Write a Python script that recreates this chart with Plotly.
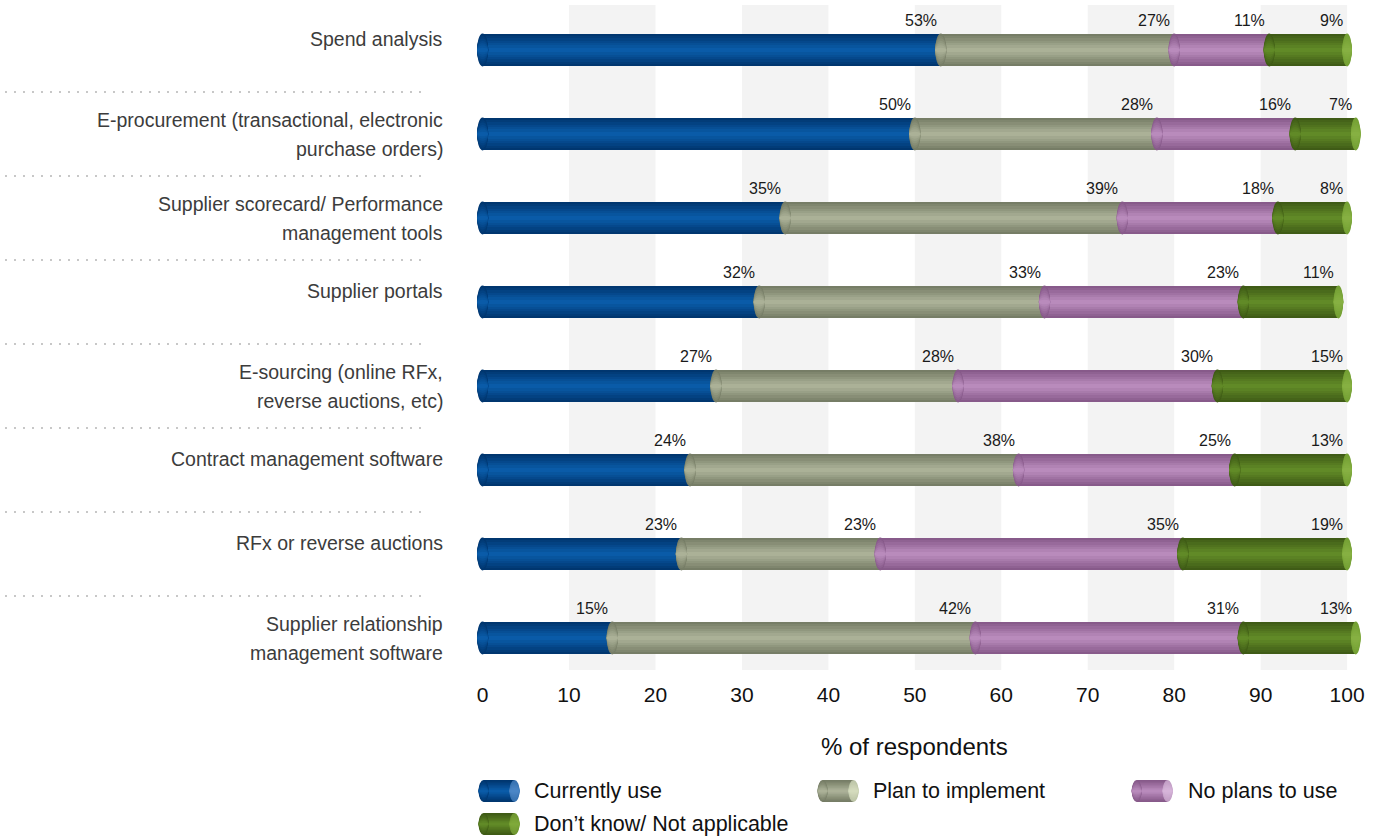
import plotly.graph_objects as go

# ---- data -------------------------------------------------------------
categories = [
    "Spend analysis",
    "E-procurement (transactional, electronic<br>purchase orders)",
    "Supplier scorecard/ Performance<br>management tools",
    "Supplier portals",
    "E-sourcing (online RFx,<br>reverse auctions, etc)",
    "Contract management software",
    "RFx or reverse auctions",
    "Supplier relationship<br>management software",
]
series_names = ["Currently use", "Plan to implement", "No plans to use",
                "Don\u2019t know/ Not applicable"]
currently_use = [53, 50, 35, 32, 27, 24, 23, 15]
plan_to_implement = [27, 28, 39, 33, 28, 38, 23, 42]
no_plans_to_use = [11, 16, 18, 23, 30, 25, 35, 31]
dont_know = [9, 7, 8, 11, 15, 13, 19, 13]
x_ticks = [0, 10, 20, 30, 40, 50, 60, 70, 80, 90, 100]
axis_title = "% of respondents"

series_values = [currently_use, plan_to_implement, no_plans_to_use, dont_know]

# ---- style ------------------------------------------------------------
W, H = 1381, 837
# (edge colour, centre colour, end-cap colour) for each series
palette = [
    ("#00366F", "#0A5BA8", "#4B86C6"),
    ("#767D66", "#ABB197", "#D4DBBD"),
    ("#875A8A", "#B98BBC", "#D6B4D9"),
    ("#3F5B16", "#618A27", "#7FA93A"),
]
BAR_W = 0.39          # bar thickness in category units
CAP_HW = 0.65         # half width of elliptical ends in x units
N_LAYERS = 7
FONT = "Liberation Sans, Arial, Helvetica, sans-serif"


def hex_to_rgb(h):
    h = h.lstrip("#")
    return tuple(int(h[i:i + 2], 16) for i in (0, 2, 4))


def mix(c1, c2, t):
    a, b = hex_to_rgb(c1), hex_to_rgb(c2)
    return "#%02x%02x%02x" % tuple(round(a[i] + (b[i] - a[i]) * t) for i in range(3))


def px_x(p):
    return p / W


def px_y(p):
    return 1 - p / H


rows = list(range(len(categories)))
fig = go.Figure()
shapes = []
annotations = []

# alternating background bands
for t in x_ticks[1::2]:
    shapes.append(dict(type="rect", xref="x", yref="paper", x0=t, x1=t + 10,
                       y0=px_y(670), y1=px_y(5), fillcolor="#F3F3F3",
                       line_width=0, layer="below"))

# stacked cylinder bars, shaded with layered bars of decreasing thickness
starts = [0] * len(rows)
seg_starts = []
for s, vals in enumerate(series_values):
    edge, centre, _ = palette[s]
    seg_starts.append(list(starts))
    for k in range(N_LAYERS):
        frac = 1 - k / N_LAYERS
        fig.add_trace(go.Bar(
            y=rows, x=vals, base=list(starts), orientation="h",
            width=BAR_W * frac,
            marker=dict(color=mix(edge, centre, k / (N_LAYERS - 1)), line_width=0),
            showlegend=False, hoverinfo="skip",
            name=series_names[s],
        ))
    ends = [a + v for a, v in zip(starts, vals)]
    # value labels at the right end of each segment
    for i in rows:
        annotations.append(dict(
            x=ends[i], y=i, xref="x", yref="y", text=f"{vals[i]}%",
            showarrow=False, xanchor="right", yanchor="middle",
            xshift=-2, yshift=30,
            font=dict(family=FONT, size=16, color="#1A1A1A")))
    starts = ends


def ellipse_stack(xc, yc, hw, hh, edge, centre, xref, yref):
    out = []
    for k in range(N_LAYERS):
        frac = 1 - k / N_LAYERS
        out.append(dict(type="circle", xref=xref, yref=yref,
                        x0=xc - hw, x1=xc + hw,
                        y0=yc - hh * frac, y1=yc + hh * frac,
                        fillcolor=mix(edge, centre, k / (N_LAYERS - 1)),
                        line_width=0, layer="above"))
    return out


# rounded starts of every segment
for s, vals in enumerate(series_values):
    edge, centre, _ = palette[s]
    for i in rows:
        shapes += ellipse_stack(seg_starts[s][i], i, CAP_HW, BAR_W / 2,
                                edge, centre, "x", "y")

# light end caps on the right of every bar
cap_edge, cap_centre = "#74A034", "#86B042"
for i in rows:
    shapes += ellipse_stack(starts[i], i, CAP_HW * 0.85, BAR_W / 2,
                            cap_edge, cap_centre, "x", "y")

# dotted separators between categories
for i in rows[:-1]:
    shapes.append(dict(type="line", xref="paper", yref="y",
                       x0=px_x(5), x1=px_x(428), y0=i + 0.5, y1=i + 0.5,
                       line=dict(color="#B5B5B5", width=1.5, dash="2px,7px")))

# category labels, right aligned beside the bars
for i, cat in enumerate(categories):
    lines = cat.split("<br>")
    if len(lines) == 1:
        offsets = [11]
    else:
        offsets = [14.5, -14.5]
    for line, off in zip(lines, offsets):
        annotations.append(dict(
            x=px_x(446), y=i, xref="paper", yref="y", text=line,
            showarrow=False, xanchor="right", yanchor="middle", yshift=off,
            font=dict(family=FONT, size=19.5, color="#3C3C3C")))

# axis title
annotations.append(dict(x=px_x(917), y=px_y(746), xref="paper", yref="paper",
                        text=axis_title, showarrow=False,
                        xanchor="center", yanchor="middle",
                        font=dict(family=FONT, size=24, color="#111111")))

# legend drawn as small cylinders with labels
legend_pos = [(480, 791), (820, 791), (1135, 791), (480, 824)]
for s, (lx, ly) in enumerate(legend_pos):
    edge, centre, cap = palette[s]
    hh = 11
    for k in range(N_LAYERS):
        frac = 1 - k / N_LAYERS
        shapes.append(dict(type="rect", xref="paper", yref="paper",
                           x0=px_x(lx + 5), x1=px_x(lx + 36),
                           y0=px_y(ly + hh * frac), y1=px_y(ly - hh * frac),
                           fillcolor=mix(edge, centre, k / (N_LAYERS - 1)),
                           line_width=0, layer="above"))
    shapes += ellipse_stack(px_x(lx + 5), px_y(ly), 5 / W, hh / H,
                            edge, centre, "paper", "paper")
    cap_e = mix(cap, edge, 0.25)
    shapes += ellipse_stack(px_x(lx + 36), px_y(ly), 5 / W, hh / H,
                            cap_e, cap, "paper", "paper")
    annotations.append(dict(x=px_x(lx + 54), y=px_y(ly), xref="paper", yref="paper",
                            text=series_names[s], showarrow=False,
                            xanchor="left", yanchor="middle",
                            font=dict(family=FONT, size=21.5, color="#111111")))

x_lo, x_hi = -1.0, 101.6
fig.update_layout(
    width=W, height=H,
    margin=dict(l=0, r=0, t=0, b=0),
    paper_bgcolor="white", plot_bgcolor="white",
    barmode="overlay", bargap=0,
    showlegend=False,
    shapes=shapes, annotations=annotations,
    xaxis=dict(range=[x_lo, x_hi],
               domain=[px_x(484 + 8.67 * x_lo), px_x(484 + 8.67 * x_hi)],
               tickvals=x_ticks, ticktext=[str(t) for t in x_ticks],
               ticks="", showgrid=False, zeroline=False, showline=False,
               tickfont=dict(family=FONT, size=21, color="#111111")),
    yaxis=dict(range=[7.5, -0.5], domain=[px_y(680), px_y(8)],
               showticklabels=False, ticks="", showgrid=False,
               zeroline=False, showline=False),
)

fig.write_html("out.html")
